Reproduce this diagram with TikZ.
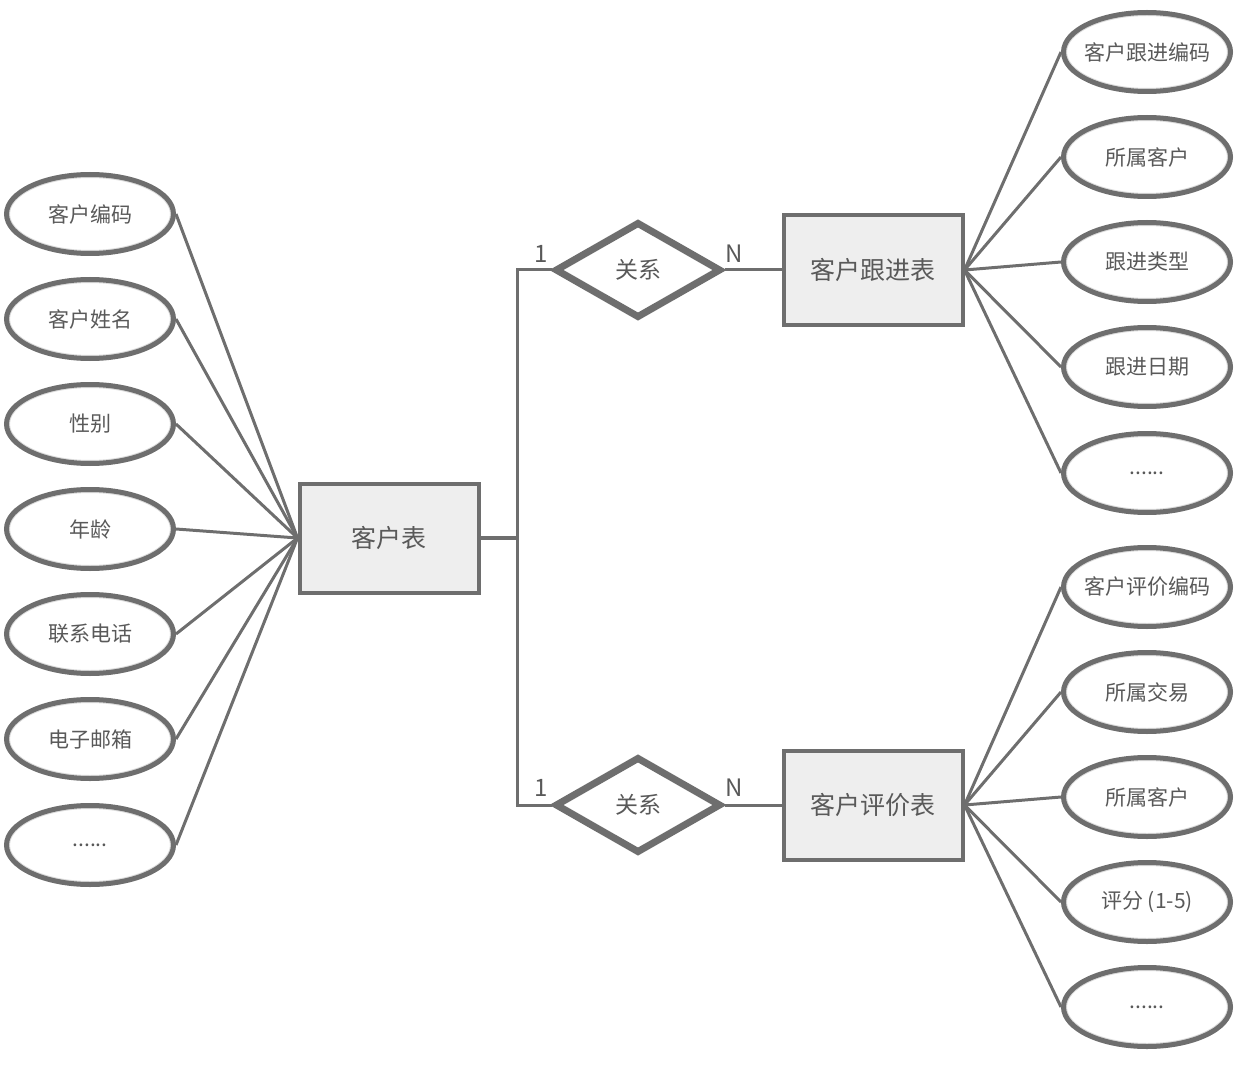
\documentclass[tikz,border=0pt]{standalone}
\usepackage{fontspec}
\setmainfont{Noto Sans CJK SC}
\usetikzlibrary{shapes.geometric}
\definecolor{erline}{HTML}{6E6E6E}
\definecolor{ertext}{HTML}{595959}
\definecolor{erfill}{HTML}{EEEEEE}

\begin{document}
\begin{tikzpicture}[x=1pt,y=-1pt,
	attr/.style={ellipse, draw=erline, line width=5pt, fill=white, inner xsep=-20pt, inner ysep=0pt,
		minimum width=167pt, minimum height=79pt, text=ertext, font=\fontsize{21}{21}\selectfont,
		path picture={\draw[erline!25, line width=7pt] (path picture bounding box.center) ellipse [x radius=83.5pt, y radius=39.5pt];}},
	entity/.style={rectangle, draw=erline, line width=4pt, fill=erfill, inner sep=0pt,
		minimum width=179pt, minimum height=109pt, text=ertext, font=\fontsize{25}{25}\selectfont},
	rel/.style={diamond, draw=erline, line width=7pt, fill=white, inner sep=0pt,
		minimum width=166pt, minimum height=96pt, text=ertext, font=\fontsize{23}{23}\selectfont},
	card/.style={text=ertext, inner sep=0pt, font=\fontsize{24}{24}\selectfont},
	link/.style={draw=erline, line width=3pt}]
					\useasboundingbox (0,0) rectangle (1242,1075);

					% left attributes
					\node[attr] (code) at (90,214) {客户编码};
					\node[attr] (name) at (90,319) {客户姓名};
					\node[attr] (sex) at (90,424) {性别};
					\node[attr] (age) at (90,529) {年龄};
					\node[attr] (tel) at (90,634) {联系电话};
					\node[attr] (mail) at (90,739) {电子邮箱};
					\node[attr] (more) at (90,845) {......};

					\node[entity] (cust) at (389,538) {客户表};

					\node[rel] (relA) at (638,270) {关系};
					\node[rel] (relB) at (638,805) {关系};
					\node[card] at (541,254) {1};
					\node[card] at (734,254) {N};
					\node[card] at (541,788) {1};
					\node[card] at (734,788) {N};

					\node[entity] (follow) at (873,270) {客户跟进表};
					\node[entity] (rate) at (873,805) {客户评价表};

					% right attributes
					\node[attr] (fcode) at (1147,52) {客户跟进编码};
					\node[attr] (fcust) at (1147,157) {所属客户};
					\node[attr] (ftype) at (1147,262) {跟进类型};
					\node[attr] (fdate) at (1147,367) {跟进日期};
					\node[attr] (fmore) at (1147,473) {......};

					\node[attr] (rcode) at (1147,587) {客户评价编码};
					\node[attr] (rdeal) at (1147,692) {所属交易};
					\node[attr] (rcust) at (1147,797) {所属客户};
					\node[attr] (rscore) at (1147,902) {评分 (1-5)};
					\node[attr] (rmore) at (1147,1007) {......};

					\coordinate (split) at (517,538);

					\foreach \a in {code,name,sex,age,tel,mail,more}
						\draw[link] (cust.west) -- (\a.east);
					\foreach \a in {fcode,fcust,ftype,fdate,fmore}
						\draw[link] (follow.east) -- (\a.west);
					\foreach \a in {rcode,rdeal,rcust,rscore,rmore}
						\draw[link] (rate.east) -- (\a.west);

					\draw[link, line width=4pt] (cust.east) -- (split);
					\draw[link] (split) |- (relA.west);
					\draw[link] (split) |- (relB.west);
					\draw[link] (relA.east) -- (follow.west);
					\draw[link] (relB.east) -- (rate.west);
				\end{tikzpicture}
\end{document}
